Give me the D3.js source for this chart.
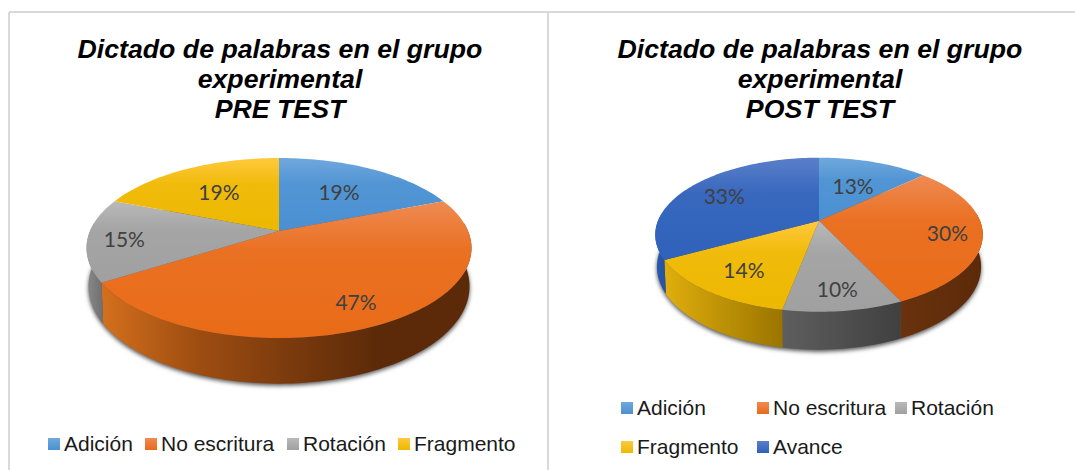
<!DOCTYPE html>
<html>
<head>
<meta charset="utf-8">
<script src="https://cdn.jsdelivr.net/npm/d3@7"></script>
<style>
  html, body { margin: 0; padding: 0; background: #fff; }
  svg { display: block; }
</style>
</head>
<body>
<div class="svg"></div>
<script>
const categories = ['Adición', 'No escritura', 'Rotación', 'Fragmento', 'Avance']
const preValues = [19, 47, 15, 19]
const postValues = [13, 30, 10, 14, 33]
const preTitle = ['Dictado de palabras en el grupo', 'experimental', 'PRE TEST']
const postTitle = ['Dictado de palabras en el grupo', 'experimental', 'POST TEST']

// light top / dark bottom of each pie top
const topLight = ['#70a8dd', '#ee8b54', '#b9b9b9', '#ffc93d', '#5b7fc8']
const topDark = ['#4a90d2', '#e96b17', '#a0a0a0', '#edb800', '#2f62bb']

;(function init() {
  const width = 1075
  const height = 470

  const svg = d3
    .select('.svg')
    .append('svg')
    .attr('width', width)
    .attr('height', height)
    .attr('viewBox', [0, 0, width, height])

  const defs = svg.append('defs')

  defs
    .append('filter')
    .attr('id', 'soft')
    .attr('x', '-10%')
    .attr('y', '-10%')
    .attr('width', '120%')
    .attr('height', '120%')
    .append('feGaussianBlur')
    .attr('stdDeviation', 2)

  topLight.forEach((c, i) => {
    const g = defs
      .append('linearGradient')
      .attr('id', `top${i}`)
      .attr('x1', 0)
      .attr('x2', 0)
      .attr('y1', 0)
      .attr('y2', 1)
    g.append('stop').attr('offset', 0).attr('stop-color', c)
    g.append('stop')
      .attr('offset', 0.35)
      .attr('stop-color', d3.interpolateRgb(c, topDark[i])(0.8))
    g.append('stop').attr('offset', 1).attr('stop-color', topDark[i])
  })

  // frame lines
  const frame = svg.append('g').attr('stroke', '#d9d9d9').attr('stroke-width', 2)
  frame.append('line').attr('x1', 9).attr('x2', width).attr('y1', 12).attr('y2', 12)
  frame.append('line').attr('x1', 9).attr('x2', 9).attr('y1', 12).attr('y2', height)
  frame.append('line').attr('x1', 548).attr('x2', 548).attr('y1', 12).attr('y2', height)

  drawPie({
    values: preValues,
    title: preTitle,
    titleX: 280,
    cx: 279,
    cy: 231,
    rx: 189,
    k: 86.8,
    e: 0.189,
    depth: 37,
    labelRadius: [0.62, 0.78, 0.81, 0.62],
    wallColors: [
      ['#2f62a0', '#2f62a0'],
      ['#d4701c', '#a04e12', '#7c3b0d', '#5c2a09', '#5c2a09'],
      ['#8a8a8a', '#6e6e6e'],
      ['#b08a00', '#b08a00']
    ],
    name: 'pre'
  })

  drawPie({
    values: postValues,
    title: postTitle,
    titleX: 820,
    cx: 819,
    cy: 220.7,
    rx: 161,
    k: 74.5,
    e: 0.182,
    depth: 31,
    labelRadius: [0.585, 0.79, 0.78, 0.71, 0.73],
    wallColors: [
      ['#2f62a0', '#2f62a0'],
      ['#6a320e', '#5c2a09'],
      ['#5e5e5e', '#404040'],
      ['#e0ae0c', '#9a7400'],
      ['#2c5cb0', '#24509e']
    ],
    name: 'post'
  })

  drawLegend([
    { i: 0, x: 48, y: 444 },
    { i: 1, x: 145, y: 444 },
    { i: 2, x: 287, y: 444 },
    { i: 3, x: 398, y: 444 }
  ])
  drawLegend([
    { i: 0, x: 621, y: 408 },
    { i: 1, x: 757, y: 408 },
    { i: 2, x: 895, y: 408 },
    { i: 3, x: 621, y: 447 },
    { i: 4, x: 757, y: 447 }
  ])

  function drawPie(opt) {
    const { values, cx, cy, rx, k, e, depth } = opt
    const slices = d3.pie().sort(null)(values)

    // circle point (clockwise from 12 o'clock) seen in perspective
    function project(a, r = 1) {
      const z = -Math.cos(a) * r
      const s = 1 / (1 - e * z)
      return { x: cx + rx * Math.sin(a) * r * s, y: cy + k * z * s, s }
    }
    function projectLow(a) {
      const p = project(a)
      return [cx + (p.x - cx) * 0.99, p.y + depth * p.s]
    }
    const line = d3.line()
    const arcAngles = (a0, a1) => {
      const n = Math.max(2, Math.ceil((a1 - a0) * 40))
      return d3.range(n + 1).map((j) => a0 + ((a1 - a0) * j) / n)
    }

    const g = svg.append('g')

    // shadow under the disc
    const all = arcAngles(0, 2 * Math.PI)
    g.append('path')
      .attr('d', line(all.map(projectLow)) + 'Z')
      .attr('transform', 'translate(0,2)')
      .attr('fill', '#555')
      .attr('filter', 'url(#soft)')

    // outer wall, only the part that faces the viewer
    const wallFrom = Math.PI / 2 - 0.1
    const wallTo = (3 * Math.PI) / 2 + 0.1
    slices.forEach((d, i) => {
      const a0 = Math.max(d.startAngle, wallFrom)
      const a1 = Math.min(d.endAngle, wallTo)
      if (a1 <= a0) return
      const stops = opt.wallColors[i]
      const id = `wall-${opt.name}-${i}`
      const grad = defs.append('linearGradient').attr('id', id)
      // bounding box runs left to right, so the colours are listed left first
      stops.forEach((c, j) => {
        grad
          .append('stop')
          .attr('offset', j / (stops.length - 1))
          .attr('stop-color', c)
      })
      const angles = arcAngles(a0, a1)
      const upper = angles.map((a) => {
        const p = project(a)
        return [p.x, p.y]
      })
      const lower = angles.map(projectLow).reverse()
      g.append('path')
        .attr('d', line(upper.concat(lower)) + 'Z')
        .attr('fill', `url(#${id})`)
    })

    // disc top
    slices.forEach((d, i) => {
      const pts = arcAngles(d.startAngle, d.endAngle).map((a) => {
        const p = project(a)
        return [p.x, p.y]
      })
      pts.unshift([cx, cy])
      g.append('path')
        .attr('d', line(pts) + 'Z')
        .attr('fill', `url(#top${i})`)
    })

    // percent labels
    slices.forEach((d, i) => {
      const p = project((d.startAngle + d.endAngle) / 2, opt.labelRadius[i])
      g.append('text')
        .attr('x', p.x)
        .attr('y', p.y + 2)
        .attr('dy', '0.35em')
        .attr('text-anchor', 'middle')
        .attr('font-family', 'Lato, "Open Sans", sans-serif')
        .attr('font-size', 21)
        .attr('fill', '#404040')
        .text(`${d.value}%`)
    })

    // title
    const title = g
      .append('text')
      .attr('text-anchor', 'middle')
      .attr('font-family', '"Liberation Sans", Arial, sans-serif')
      .attr('font-size', 26.7)
      .attr('font-weight', 'bold')
      .attr('font-style', 'italic')
      .attr('fill', '#000')
    title
      .selectAll('tspan')
      .data(opt.title)
      .enter()
      .append('tspan')
      .attr('x', opt.titleX)
      .attr('y', (d, i) => 57.5 + i * 30)
      .text((d) => d)
  }

  function drawLegend(items) {
    const g = svg.append('g')
    g.selectAll('rect')
      .data(items)
      .enter()
      .append('rect')
      .attr('x', (d) => d.x)
      .attr('y', (d) => d.y - 6)
      .attr('width', 12)
      .attr('height', 12)
      .attr('fill', (d) => `url(#legend${d.i})`)
    g.selectAll('text')
      .data(items)
      .enter()
      .append('text')
      .attr('x', (d) => d.x + 16)
      .attr('y', (d) => d.y)
      .attr('dy', '0.35em')
      .attr('font-family', '"Liberation Sans", Arial, sans-serif')
      .attr('font-size', 21)
      .attr('fill', '#1a1a1a')
      .text((d) => categories[d.i])
  }

  topLight.forEach((c, i) => {
    const g = defs
      .append('linearGradient')
      .attr('id', `legend${i}`)
      .attr('x1', 0)
      .attr('x2', 0)
      .attr('y1', 0)
      .attr('y2', 1)
    g.append('stop').attr('offset', 0).attr('stop-color', c)
    g.append('stop').attr('offset', 1).attr('stop-color', topDark[i])
  })
})()
</script>
</body>
</html>
